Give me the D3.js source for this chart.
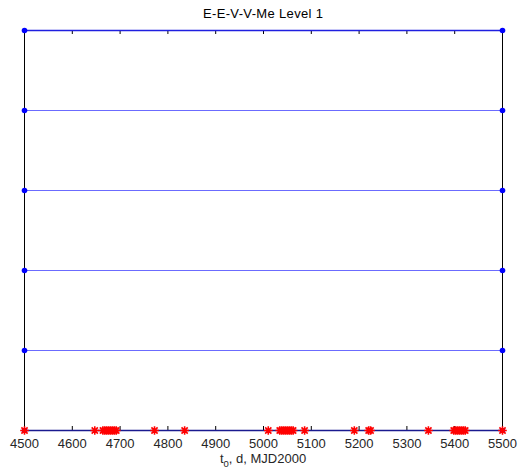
<!DOCTYPE html>
<html><head><meta charset="utf-8">
<script src="https://cdn.jsdelivr.net/npm/d3@7"></script>
<style>body{margin:0;background:#fff;} text{font-family:"Liberation Sans",Arial,sans-serif;}</style>
</head><body>
<svg id="c" width="518" height="473"></svg>
<script>
const title = "E-E-V-V-Me Level 1";
const xTicks = [4500,4600,4700,4800,4900,5000,5100,5200,5300,5400,5500];
const levels = [0,1,2,3,4,5];
const lineStart = 4500, lineEnd = 5500;
const redPoints = [4500,4647,4664,4668,4672,4676,4680,4684,4688,4692,4772,4835,5010,5034,5038,5042,5046,5050,5054,5058,5062,5086,5190,5220,5224,5345,5398,5402,5406,5410,5414,5418,5422,5500];

const svg = d3.select("#c");
const L=24, R=502, T=30, B=430;
const x = d3.scaleLinear().domain([4500,5500]).range([L,R]);
const y = d3.scaleLinear().domain([0,5]).range([B,T]);

const g = svg.append("g");
g.append("line").attr("x1",L+0.5).attr("x2",L+0.5).attr("y1",T).attr("y2",B).attr("stroke","#000");
g.append("line").attr("x1",R+0.5).attr("x2",R+0.5).attr("y1",T).attr("y2",B).attr("stroke","#000");
g.append("line").attr("x1",L).attr("x2",R).attr("y1",T+0.5).attr("y2",T+0.5).attr("stroke","#000");
g.append("line").attr("x1",L).attr("x2",R).attr("y1",B+0.5).attr("y2",B+0.5).attr("stroke","#000");

const xb = d3.axisBottom(x).tickValues(xTicks).tickSizeInner(-4).tickSizeOuter(0).tickPadding(9).tickFormat(d3.format("d"));
const ab = svg.append("g").attr("transform",`translate(0,${B})`).call(xb);
ab.select(".domain").remove();
ab.selectAll("text").attr("font-size",13).attr("fill","#262626").attr("font-family","Liberation Sans, Arial, sans-serif");
ab.selectAll("line").attr("stroke","#000");
const xt = d3.axisTop(x).tickValues(xTicks).tickSizeInner(-4).tickSizeOuter(0).tickFormat("");
const at = svg.append("g").attr("transform",`translate(0,${T})`).call(xt);
at.select(".domain").remove();
at.selectAll("line").attr("stroke","#000");

levels.forEach(lv=>{
  const yy = Math.round(y(lv))+0.5;
  const col = (lv===0) ? "#1a1a8f" : (lv===5 ? "#1f1fe0" : "#6b6bff");
  svg.append("line").attr("x1",x(lineStart)).attr("x2",x(lineEnd)).attr("y1",yy).attr("y2",yy)
    .attr("stroke",col).attr("stroke-width", lv===0||lv===5 ? 1.6 : 1);
  [lineStart,lineEnd].forEach(v=>{
    svg.append("circle").attr("cx",x(v)+0.5).attr("cy",yy).attr("r",2.8).attr("fill","#0000ff");
  });
});

function asterisk(sel,cx,cy){
  const s=4.3, d=3.1;
  const p = `M${cx-s},${cy}L${cx+s},${cy}M${cx},${cy-s}L${cx},${cy+s}M${cx-d},${cy-d}L${cx+d},${cy+d}M${cx-d},${cy+d}L${cx+d},${cy-d}`;
  sel.append("path").attr("d",p).attr("stroke","#ff0000").attr("stroke-width",1.6).attr("fill","none");
}
redPoints.forEach(v=>asterisk(svg, x(v)+0.5, Math.round(y(0))+0.5));

svg.append("text").attr("x",(L+R)/2).attr("y",18).attr("text-anchor","middle").attr("font-size",13)
  .attr("textLength",120).attr("lengthAdjust","spacing").attr("fill","#000").text(title);
const xl = svg.append("text").attr("x",(L+R)/2).attr("y",463).attr("text-anchor","middle").attr("font-size",13).attr("fill","#262626");
xl.append("tspan").text("t");
xl.append("tspan").attr("font-size",9.5).attr("dy",4).text("0");
xl.append("tspan").attr("dy",-4).text(", d, MJD2000");
</script>
</body></html>
